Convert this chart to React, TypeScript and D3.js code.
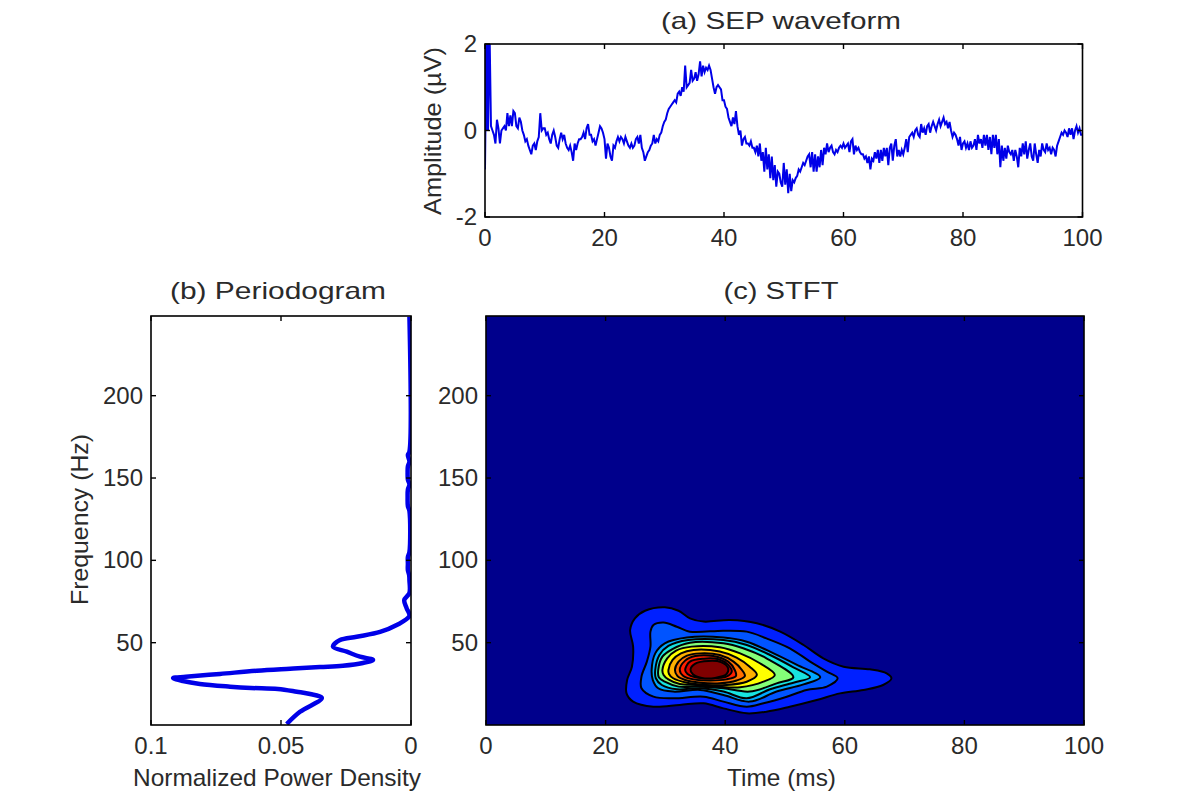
import React from "react";
import * as d3 from "d3";

const waveStep = 0.25;
const waveValues = [
  -0.9,2.4,0.0,2.4,0.1,0.0,-0.1,-0.3,0.25,0.05,-0.3,0.0,0.05,0.1,0.0,0.4,0.1,0.35,0.1,0.45,
  0.4,0.1,0.05,0.3,0.2,0.0,-0.1,-0.25,-0.2,-0.35,-0.45,-0.55,-0.35,-0.3,-0.45,-0.25,-0.15,0.4,0.0,0.05,
  0.05,-0.1,-0.05,-0.2,-0.3,-0.1,0.0,-0.15,-0.35,-0.4,-0.2,-0.05,-0.2,-0.1,-0.3,-0.4,-0.45,-0.35,-0.5,-0.7,
  -0.3,-0.45,-0.3,-0.2,-0.2,-0.15,-0.05,-0.2,0.05,0.15,-0.1,-0.1,-0.25,-0.2,-0.35,-0.2,-0.05,0.1,0.05,-0.05,
  -0.2,-0.65,-0.3,-0.4,-0.6,-0.7,-0.35,-0.4,-0.25,-0.15,-0.25,-0.15,-0.2,-0.3,-0.15,-0.25,-0.35,-0.4,-0.3,-0.4,
  -0.35,-0.2,-0.15,-0.3,-0.1,-0.4,-0.5,-0.7,-0.6,-0.5,-0.45,-0.35,-0.3,-0.1,-0.3,-0.2,-0.25,-0.1,-0.05,0.1,
  0.2,0.25,0.4,0.5,0.55,0.6,0.65,0.7,0.65,0.85,0.9,0.8,1.0,0.9,1.5,1.0,1.05,1.1,1.4,1.15,
  1.2,1.35,1.15,1.3,1.6,1.25,1.5,1.35,1.45,1.4,1.5,1.4,1.2,1.0,0.85,1.0,1.05,1.0,0.95,0.7,
  0.7,0.55,0.5,0.3,0.2,0.1,0.3,0.15,0.45,0.1,-0.1,0.0,-0.35,-0.2,-0.15,-0.3,-0.3,-0.35,-0.25,-0.4,
  -0.4,-0.5,-0.35,-0.6,-0.3,-0.7,-0.5,-0.95,-0.4,-0.9,-0.55,-1.1,-0.6,-1.15,-0.8,-1.3,-0.95,-1.0,-1.2,-1.3,
  -0.75,-1.25,-0.9,-1.45,-1.0,-1.4,-1.15,-1.2,-1.1,-1.05,-0.9,-0.95,-0.85,-0.75,-0.8,-0.7,-0.6,-0.55,-0.85,-0.5,
  -0.95,-0.55,-0.95,-0.6,-0.85,-0.45,-0.8,-0.4,-0.55,-0.3,-0.5,-0.4,-0.35,-0.5,-0.55,-0.45,-0.5,-0.4,-0.35,-0.4,
  -0.3,-0.4,-0.35,-0.3,-0.5,-0.25,-0.2,-0.55,-0.35,-0.45,-0.4,-0.5,-0.55,-0.55,-0.65,-0.6,-0.75,-0.6,-0.9,-0.65,
  -0.7,-0.5,-0.65,-0.45,-0.75,-0.45,-0.7,-0.4,-0.6,-0.4,-0.8,-0.4,-0.3,-0.7,-0.35,-0.2,-0.6,-0.45,-0.6,-0.45,
  -0.55,-0.4,-0.2,-0.5,-0.15,-0.1,-0.05,-0.15,0.0,0.05,-0.1,-0.15,0.15,-0.05,0.05,-0.1,0.1,0.15,-0.05,0.1,
  0.2,0.1,0.0,0.15,0.25,0.1,0.2,0.3,0.15,0.2,0.05,0.2,0.0,-0.15,-0.05,-0.1,-0.2,-0.35,-0.15,-0.45,
  -0.3,-0.25,-0.4,-0.3,-0.45,-0.25,-0.4,-0.35,-0.2,-0.45,-0.1,-0.3,-0.2,-0.4,-0.1,-0.35,-0.1,-0.45,-0.15,-0.55,
  -0.1,-0.4,-0.1,-0.55,-0.2,-0.85,-0.35,-0.7,-0.4,-0.65,-0.35,-0.5,-0.55,-0.45,-0.7,-0.45,-0.6,-0.85,-0.4,-0.6,
  -0.3,-0.55,-0.25,-0.65,-0.45,-0.3,-0.6,-0.7,-0.3,-0.55,-0.75,-0.45,-0.6,-0.3,-0.45,-0.5,-0.3,-0.45,-0.4,-0.55,
  -0.4,-0.45,-0.6,-0.35,-0.25,-0.15,-0.05,-0.1,0.0,-0.05,-0.15,0.05,-0.1,0.05,-0.2,0.0,0.1,-0.05,0.05,-0.1,-0.1,
];
const spikeTime = 0.35;
const spikeRange = [0, 2];

const periodFreq = [0.6,8,16.4,18.8,20.2,21.9,22.5,23.3,24.9,26.7,28.5,29.3,31,33,34.2,35.2,36,37.7,39.5,41.5,44.5,47.6,51.6,53.6,56.5,60.7,66.2,71,75.9,80.2,88,91,94,98,102,105,130,133,138,143,146,149,153,157,160,164,166,248];
const periodPower = [0.0478,0.0427,0.0343,0.0388,0.0439,0.0512,0.0615,0.0696,0.0812,0.0877,0.0915,0.0866,0.0735,0.0593,0.0465,0.0350,0.0262,0.0185,0.0146,0.0196,0.0247,0.03,0.0273,0.0209,0.0119,0.0055,0.0006,0.0017,0.0026,0.0006,0.0006,0.0007,0.0012,0.0012,0.0012,0.0006,0.0006,0.0012,0.0013,0.0012,0.0006,0.0012,0.0013,0.0012,0.0006,0.0012,0.0006,0.0006];

const contourColors = ["#0020ff","#0054ff","#00a8ff","#18e4e0","#84ff78","#ffff00","#ffb000","#ff7000","#ff2000","#d00000","#800000"];
const level1 = [[24.1,57.7],[24.9,64.8],[26.6,69.4],[29.9,71.5],[32.2,69.4],[34.1,64.8],[36.4,62.8],[40.8,63.8],[45.3,61.8],[49.2,56.7],[53.1,48.6],[56.4,40.5],[59.8,35.4],[64.2,33.8],[67,31.4],[67.8,28.4],[66.4,24.3],[63.1,21.3],[59.2,19.2],[55.3,15.2],[50.8,11.1],[46.9,8.1],[43.6,7.1],[39.7,10.1],[36.4,13.2],[32.4,12.2],[28,11.1],[24.6,14.2],[23.5,19.2],[23.6,27.3],[24.4,35.4],[24.6,47.6]];
const level2 = [[27.5,56.7],[28,60.7],[29.7,62.2],[31.9,59.7],[34.1,56.7],[39.7,57.3],[43.6,56.7],[46.9,52.6],[50.8,46.6],[54.2,38.5],[57,32.4],[58.8,28.4],[57,23.3],[53.6,21.3],[50.3,17.2],[46.4,13.2],[43.6,11.1],[39.7,14.2],[36.4,17.2],[31.3,16.2],[28,17.2],[26,22.3],[26,29.4],[26.9,38.5],[27.5,47.6]];
const level3 = [[27.7,33.4],[28.3,43.5],[29.9,49.6],[33.6,53.1],[39.7,53.1],[43.6,50.6],[48.1,43.5],[52,36.5],[55.9,29],[53.1,24.7],[48.6,20.3],[44.1,14.2],[39.7,18.2],[35.8,21.3],[31.3,20.3],[28.8,22.3],[27.9,27.3]];
const level4 = [[28.3,33.4],[29,42.5],[30.5,48],[33.8,51.6],[39.7,51.6],[43.6,48.6],[47.5,42.5],[51.4,35],[54.2,29],[51.4,25.7],[47.5,21.7],[43.6,16.2],[39.7,20.3],[35.8,22.3],[31.9,21.7],[29.4,24.3],[28.4,28.4]];
const level5 = [[28.8,33.4],[29.5,41.5],[31.1,46],[34.1,50],[39.7,49.6],[43,46.6],[46.9,40.5],[51.4,29],[48.6,25.3],[44.1,20.3],[39.7,22.3],[35.8,23.3],[32.2,23.3],[29.9,26.3],[28.9,29]];
const level6 = [[29.5,33.4],[30.3,40.5],[31.8,45.2],[34.4,47.6],[39.1,47.2],[42.5,43.5],[45.8,37.5],[48.3,30.4],[46.4,26.3],[42.5,22.9],[38.6,23.3],[35.2,24.3],[32.4,24.9],[30.5,27.7],[29.7,30.4]];
const level7 = [[30.5,33.4],[31.2,39.5],[32.6,43.5],[34.7,45.6],[39.1,44.6],[41.9,40.9],[44.1,35.4],[45.3,30.4],[43.6,26.3],[40.2,24.3],[36.9,24.3],[33.6,25.7],[31.3,28.4],[30.6,31]];
const level8 = [[31.6,33.4],[32.2,38.5],[33.6,42.1],[35.8,43.5],[39.1,42.5],[41.4,38.5],[42.8,33.4],[43.3,29.8],[41.9,27],[39.1,25.3],[35.8,25.7],[33.3,27.3],[32,29.8]];
const level9 = [[32.4,33.4],[33.3,39.1],[35,41.9],[38,41.9],[40.5,38.5],[41.6,33.4],[41.8,29.8],[40.2,27.7],[37.5,27],[34.7,27.7],[33,29.8]];
const level10 = [[33.3,33.4],[34.1,38.5],[36.4,40.3],[38.9,39.9],[40.5,36.5],[41.1,32.4],[40.2,29.4],[37.7,28.4],[35,29],[33.7,31]];
const level11 = [[34.2,33.8],[35,37.3],[37.2,38.9],[39.3,38.2],[40.5,34.4],[40.2,30.8],[38.3,28.6],[36.1,28.6],[34.6,30.8]];
const contourLevels = [level1,level2,level3,level4,level5,level6,level7,level8,level9,level10,level11];

const titles = ["(a) SEP waveform","(b) Periodogram","(c) STFT"];
const waveXTicks = [0,20,40,60,80,100];
const waveYTicks = [-2,0,2];
const freqTicks = [50,100,150,200];
const powerTicks = [0.1,0.05,0];

const FONT = "'Liberation Sans', Arial, sans-serif";
const TXT = "#2a2a2a";
const FS = 24;

type Sc = (v: number) => number;

function Box({ x0, x1, y0, y1, xs, ys, fx, fy }: { x0: number; x1: number; y0: number; y1: number; xs: number[]; ys: number[]; fx: Sc; fy: Sc }) {
  const L = 5;
  return (
    <g>
      <rect x={x0} y={y0} width={x1 - x0} height={y1 - y0} fill="none" stroke="#000" strokeWidth={1.6} />
      {xs.map((v) => (
        <g key={"x" + v}>
          <line x1={fx(v)} x2={fx(v)} y1={y1} y2={y1 - L} stroke="#000" strokeWidth={1.4} />
          <line x1={fx(v)} x2={fx(v)} y1={y0} y2={y0 + L} stroke="#000" strokeWidth={1.4} />
          <text x={fx(v)} y={y1 + 29} textAnchor="middle" fontFamily={FONT} fontSize={FS} fill={TXT}>{String(v)}</text>
        </g>
      ))}
      {ys.map((v) => (
        <g key={"y" + v}>
          <line x1={x0} x2={x0 + L} y1={fy(v)} y2={fy(v)} stroke="#000" strokeWidth={1.4} />
          <line x1={x1} x2={x1 - L} y1={fy(v)} y2={fy(v)} stroke="#000" strokeWidth={1.4} />
          <text x={x0 - 8} y={fy(v) + 8} textAnchor="end" fontFamily={FONT} fontSize={FS} fill={TXT}>{String(v)}</text>
        </g>
      ))}
    </g>
  );
}

function Label({ x, y, w, rotate, children }: { x: number; y: number; w: number; rotate?: boolean; children: string }) {
  return (
    <text
      transform={`translate(${x},${y})${rotate ? " rotate(-90)" : ""}`}
      textAnchor="middle"
      textLength={w}
      lengthAdjust="spacingAndGlyphs"
      fontFamily={FONT}
      fontSize={FS}
      fill={TXT}
    >
      {children}
    </text>
  );
}

export default function App() {
  const waveX = d3.scaleLinear().domain([0, 100]).range([485, 1082.5]);
  const waveY = d3.scaleLinear().domain([-2, 2]).range([217, 44]);
  const powX = d3.scaleLinear().domain([0.1, 0]).range([151, 411]);
  const freqY = d3.scaleLinear().domain([0, 248.4]).range([725, 316]);
  const timeX = d3.scaleLinear().domain([0, 100]).range([486, 1084]);

  const wavePath = d3.line<number>().x((_, i) => waveX(i * waveStep)).y((d) => waveY(d))(waveValues) as string;
  const perPath = d3.line<number>().x((d) => powX(d)).y((_, i) => freqY(periodFreq[i])).curve(d3.curveCatmullRom.alpha(0.5))(periodPower) as string;
  const contourPath = d3.line<number[]>().x((d) => timeX(d[0])).y((d) => freqY(d[1])).curve(d3.curveCatmullRomClosed.alpha(0.5));

  return (
    <svg width={1200} height={797} style={{ position: "absolute", left: 0, top: 0, display: "block", background: "#fff" }}>
      <defs>
        <clipPath id="waveClip"><rect x={485} y={44} width={597.5} height={173} /></clipPath>
        <clipPath id="stftClip"><rect x={486} y={316} width={598} height={409} /></clipPath>
        <clipPath id="perClip"><rect x={151} y={316} width={260} height={409} /></clipPath>
      </defs>

      <path d={wavePath} fill="none" stroke="#0000e8" strokeWidth={2} strokeLinejoin="miter" clipPath="url(#waveClip)" />
      <line x1={waveX(spikeTime)} x2={waveX(spikeTime)} y1={waveY(spikeRange[0])} y2={waveY(spikeRange[1])} stroke="#0000e8" strokeWidth={4} />
      <Box x0={485} x1={1082.5} y0={44} y1={217} xs={waveXTicks} ys={waveYTicks} fx={waveX} fy={waveY} />
      <Label x={781} y={29} w={240}>{titles[0]}</Label>
      <Label x={441} y={131} w={168} rotate>Amplitude (µV)</Label>

      <path d={perPath} fill="none" stroke="#0000e8" strokeWidth={4.5} strokeLinejoin="round" clipPath="url(#perClip)" />
      <Box x0={151} x1={411} y0={316} y1={725} xs={powerTicks} ys={freqTicks} fx={powX} fy={freqY} />
      <Label x={278} y={299} w={216}>{titles[1]}</Label>
      <Label x={277} y={786} w={288}>Normalized Power Density</Label>
      <Label x={88} y={519.5} w={171} rotate>Frequency (Hz)</Label>

      <rect x={486} y={316} width={598} height={409} fill="#00008c" />
      <g clipPath="url(#stftClip)">
        {contourLevels.map((pts, i) => (
          <path key={i} d={contourPath(pts) as string} fill={contourColors[i]} stroke="#000" strokeWidth={2} />
        ))}
      </g>
      <Box x0={486} x1={1084} y0={316} y1={725} xs={waveXTicks} ys={freqTicks} fx={timeX} fy={freqY} />
      <Label x={781} y={299} w={115}>{titles[2]}</Label>
      <Label x={781.5} y={786} w={109}>Time (ms)</Label>
    </svg>
  );
}
